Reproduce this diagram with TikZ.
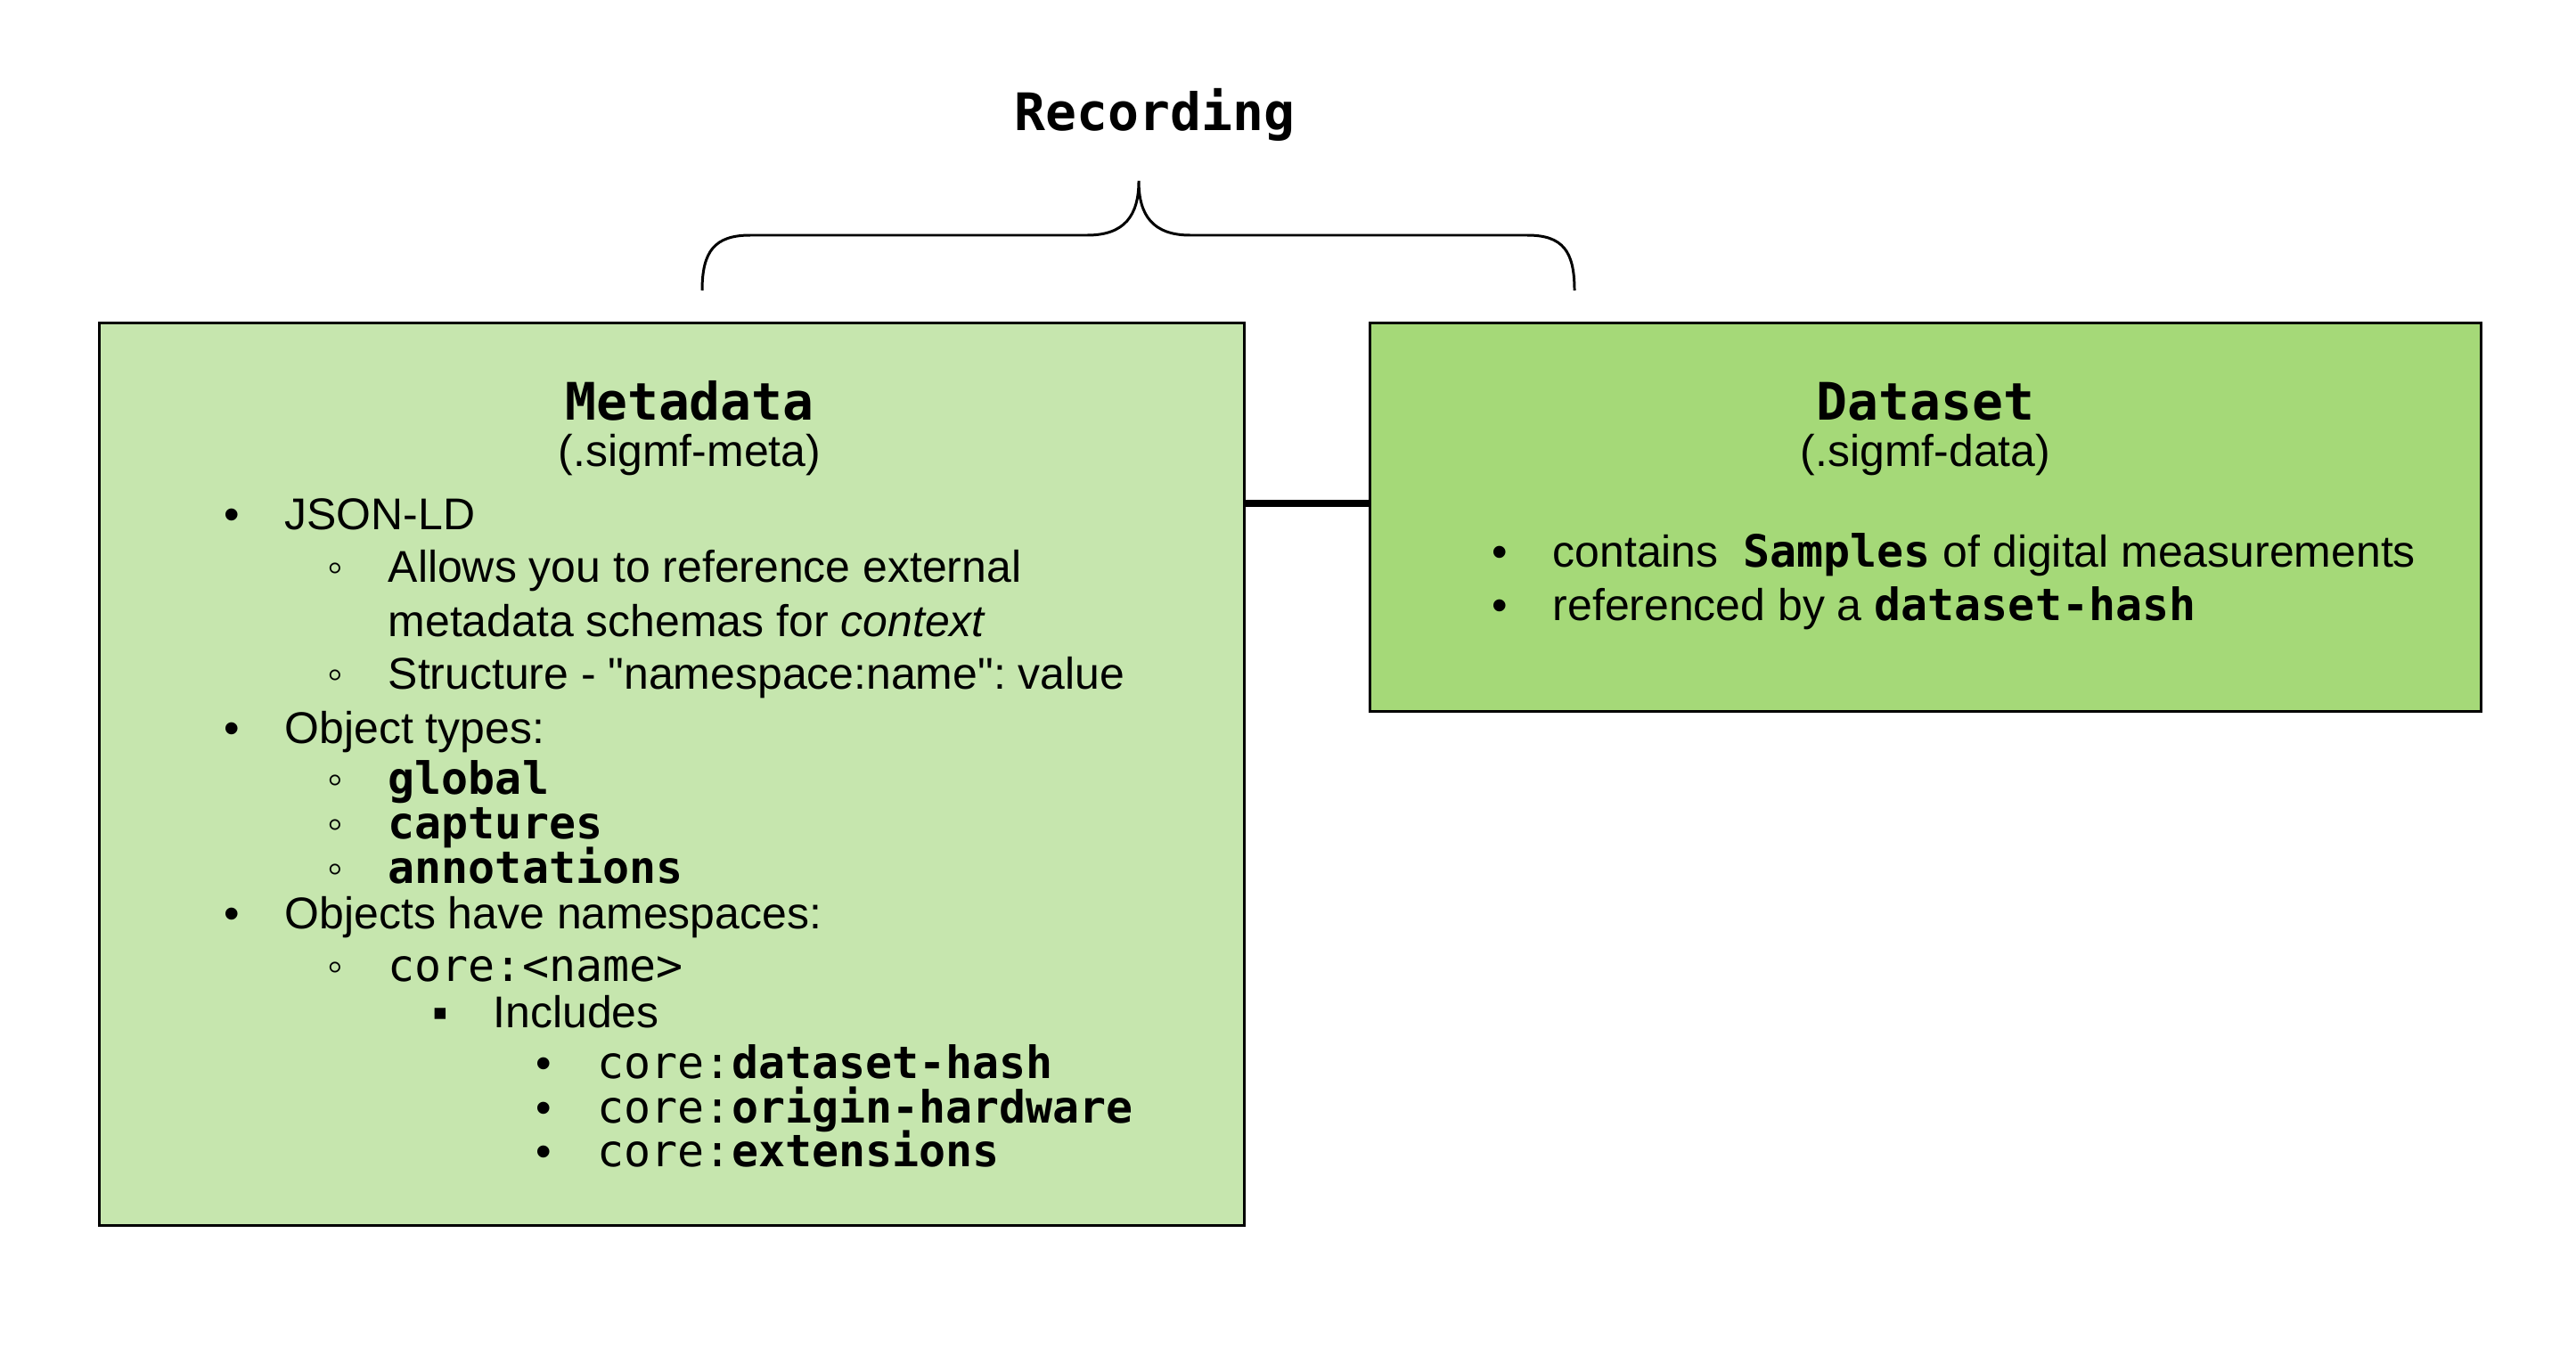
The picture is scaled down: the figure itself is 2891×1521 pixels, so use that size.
\documentclass[tikz,border=0pt]{standalone}
\usepackage{fontspec}
\setmainfont{Liberation Sans}[Ligatures=TeXOff]
\setmonofont{DejaVu Sans Mono}
\usetikzlibrary{positioning}
\definecolor{metagreen}{HTML}{C6E6AE}
\definecolor{datagreen}{HTML}{A5D978}
\newcommand{\itm}[2]{\makebox[0.68cm][l]{#1}#2}
\frenchspacing
\begin{document}
\begin{tikzpicture}[
        x=0.01cm, y=-0.01cm,
        box/.style = {rectangle, draw=black, line width=0.85pt, inner sep=0},
        metabox/.style = {box, fill=metagreen, minimum width=12.84cm, minimum height=10.12cm},
        databox/.style = {box, fill=datagreen, minimum width=12.46cm, minimum height=4.35cm},
        heading/.style = {font=\fontsize{16.5}{20}\selectfont\ttfamily\bfseries, inner sep=0, anchor=base},
        subhead/.style = {font=\fontsize{14.2}{17}\selectfont, inner sep=0, anchor=base},
        entry/.style = {font=\fontsize{14.2}{17}\selectfont, inner sep=0, anchor=base west},
        link/.style = {line width=2.2pt},
        brace/.style = {line width=0.85pt}
    ]
    \useasboundingbox (0,0) rectangle (2891,1521);

    % ================= RECORDING =================
    \node[heading] (rec) at (1296,146) {Recording};
    \draw[brace] (788,326) .. controls (788,282) and (802,264) .. (842,264) -- (1220,264)
        .. controls (1262,264) and (1278,242) .. (1278,203)
        .. controls (1278,242) and (1294,264) .. (1336,264) -- (1714,264)
        .. controls (1754,264) and (1767,282) .. (1767,326);

    % ================= BOXES =================
    \node[metabox] (meta) at (754,869) {};
    \node[databox] (data) at (2161,580.5) {};
    \draw[link] (meta.east |- 0,565) -- (data.west |- 0,565);

    % ================= METADATA =================
    \node[heading] (metaname) at (774,471) {Metadata};
    \node[subhead] (metaext) at (774,523) {(.sigmf-meta)};
    %
    \node[entry] (m1) at (251,594) {\itm{•}{JSON-LD}};
    \node[entry] (m2) at (367,653) {\itm{◦}{Allows you to reference external}};
    \node[entry] (m3) at (435,714) {metadata schemas for \textit{context}};
    \node[entry] (m4) at (367,773) {\itm{◦}{Structure - "namespace:name": value}};
    \node[entry] (m5) at (251,834) {\itm{•}{Object types:}};
    \node[entry] (m6) at (367,891) {\itm{◦}{\texttt{\bfseries global}}};
    \node[entry] (m7) at (367,941) {\itm{◦}{\texttt{\bfseries captures}}};
    \node[entry] (m8) at (367,991) {\itm{◦}{\texttt{\bfseries annotations}}};
    \node[entry] (m9) at (251,1042) {\itm{•}{Objects have namespaces:}};
    \node[entry] (m10) at (367,1101) {\itm{◦}{\texttt{core:<name>}}};
    \node[entry] (m11) at (485,1153) {\itm{▪}{Includes}};
    \node[entry] (m12) at (601,1210) {\makebox[0.69cm][l]{•}\texttt{core:\bfseries dataset-hash}};
    \node[entry] (m13) at (601,1260) {\makebox[0.69cm][l]{•}\texttt{core:\bfseries origin-hardware}};
    \node[entry] (m14) at (601,1309) {\makebox[0.69cm][l]{•}\texttt{core:\bfseries extensions}};

    % ================= DATASET =================
    \node[heading] (dataname) at (2161,471) {Dataset};
    \node[subhead] (dataext) at (2161,523) {(.sigmf-data)};
    %
    \node[entry] (d1) at (1674,636) {\itm{•}{contains~~\texttt{\bfseries Samples} of digital measurements}};
    \node[entry] (d2) at (1674,696) {\itm{•}{referenced by a \texttt{\bfseries dataset-hash}}};

    \end{tikzpicture}
\end{document}
